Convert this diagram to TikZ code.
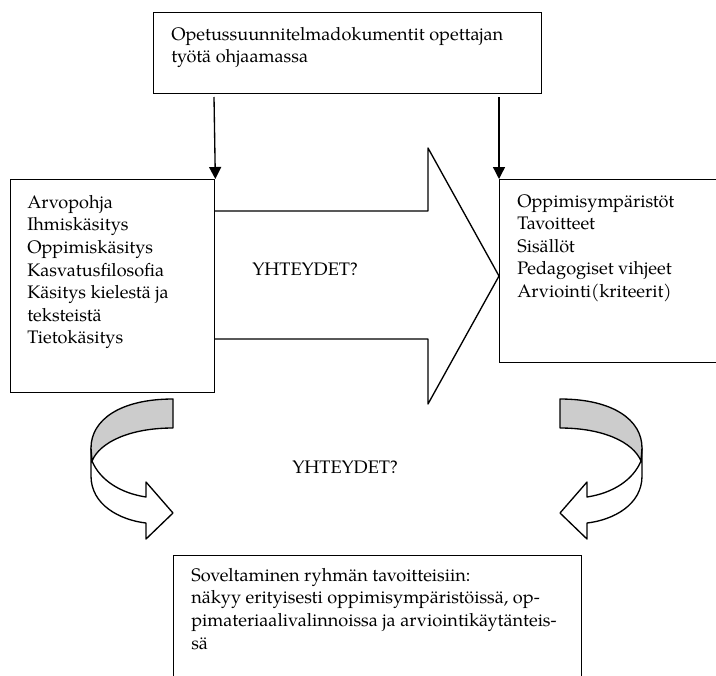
\documentclass[tikz,border=0pt]{standalone}
\usepackage{fontspec}
\setmainfont{TeX Gyre Pagella}
\usetikzlibrary{arrows.meta}
\tikzset{
  box/.style={draw,line width=1pt,fill=white,anchor=north west,inner sep=0pt},
  txt/.style={anchor=north west,inner sep=0pt,align=left,font=\fontsize{13.6}{16.9}\selectfont},
  lbl/.style={anchor=west,inner sep=0pt,font=\fontsize{13.6}{16.9}\selectfont},
  conn/.style={line width=1pt,-{Triangle[width=9pt,length=9pt]}},
  band/.style={line width=1pt,line join=round},
  bandlight/.style={band,fill=white},
  bandgray/.style={band,fill=gray!40}
}
\begin{document}
\begin{tikzpicture}[x=0.75pt,y=-0.75pt]
\useasboundingbox (0,0) rectangle (716,675);
\clip (0,0) rectangle (716,675);
% big arrow
\filldraw[band,fill=white] (214,211) -- (428,211) -- (428,148) -- (499,276) -- (428,404) -- (428,339) -- (214,339);
% boxes
\node[box,minimum width=291pt,minimum height=60.75pt] (top) at (153,12) {};
\node[box,minimum width=153pt,minimum height=159.75pt] (left) at (10,179) {};
\node[box,minimum width=173.25pt,minimum height=137.25pt] (right) at (499,179) {};
\node[box,minimum width=306pt,minimum height=108.75pt] (bottom) at (173,555) {};
% texts
\node[txt] (toptxt) at (171,27) {Opetussuunnitelmadokumentit opettajan\\työtä ohjaamassa};
\node[txt] (lefttxt) at (27,195) {Arvopohja\\Ihmiskäsitys\\Oppimiskäsitys\\Kasvatusfilosofia\\Käsitys kielestä ja\\teksteistä\\Tietokäsitys};
\node[txt] (righttxt) at (517,194) {Oppimisympäristöt\\Tavoitteet\\Sisällöt\\Pedagogiset vihjeet\\Arviointi(kriteerit)};
\node[txt] (bottxt) at (191,568) {Soveltaminen ryhmän tavoitteisiin:\\näkyy erityisesti oppimisympäristöissä, op-\\pimateriaalivalinnoissa ja arviointikäytänteis-\\sä};
\node[lbl] (q1) at (252,269) {YHTEYDET?};
\node[lbl] (q2) at (292,467) {YHTEYDET?};
% connectors
\coordinate (s1) at (214,97);
\coordinate (s2) at (499,97);
\draw[conn] (s1) -- (left.north east);
\draw[conn] (s2) -- (right.north west);
% left curved arrow
\filldraw[bandlight] (91,448) -- (91,476) .. controls (91,505) and (120,520) .. (146,523)
  -- (146,539) -- (173,513) -- (146,482) -- (146,497)
  .. controls (120,493) and (100,480) .. (92,461) -- cycle;
\filldraw[bandgray] (173,399) .. controls (120,399) and (91,420) .. (91,448)
  -- (92,461) .. controls (100,442) and (130,428) .. (173,428) -- cycle;
% right curved arrow
\filldraw[bandlight] (642,448) -- (642,476) .. controls (642,505) and (613,520) .. (587,523)
  -- (587,539) -- (560,513) -- (587,482) -- (587,497)
  .. controls (613,493) and (633,480) .. (641,461) -- cycle;
\filldraw[bandgray] (560,399) .. controls (613,399) and (642,420) .. (642,448)
  -- (641,461) .. controls (633,442) and (603,428) .. (560,428) -- cycle;
\end{tikzpicture}
\end{document}
